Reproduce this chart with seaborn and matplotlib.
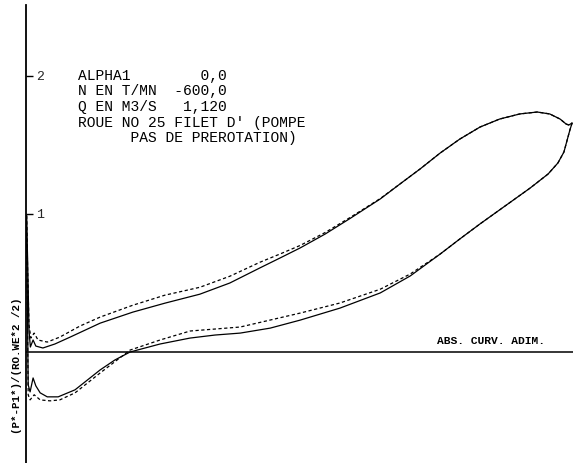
import matplotlib
matplotlib.use("Agg")
import matplotlib.pyplot as plt
import seaborn as sns
import pandas as pd

# Curvilinear abscissa (0 = leading edge, 1 = trailing edge) and pressure coefficient
upper_solid_x = [0.001, 0.003, 0.0055, 0.008, 0.013, 0.018, 0.031, 0.053, 0.081, 0.136,
                 0.196, 0.255, 0.319, 0.374, 0.429, 0.466, 0.503, 0.549, 0.594, 0.650,
                 0.686, 0.723, 0.760, 0.796, 0.833, 0.869, 0.906, 0.938, 0.961, 0.980,
                 0.991, 0.996, 1.002]
upper_solid_y = [0.989, 0.664, 0.159, 0.036, 0.087, 0.043, 0.029, 0.058, 0.108, 0.209,
                 0.289, 0.354, 0.419, 0.500, 0.609, 0.681, 0.754, 0.855, 0.966, 1.109,
                 1.217, 1.326, 1.442, 1.543, 1.630, 1.688, 1.725, 1.739, 1.725, 1.688,
                 1.652, 1.645, 1.659]

upper_dash_x = [0.001, 0.003, 0.0055, 0.009, 0.015, 0.022, 0.039, 0.062, 0.099, 0.136,
                0.196, 0.255, 0.319, 0.374, 0.429, 0.466, 0.503, 0.549, 0.594, 0.650,
                0.686, 0.723, 0.760, 0.796, 0.833, 0.869, 0.906, 0.938, 0.961, 0.980,
                0.991, 0.996, 1.002]
upper_dash_y = [0.989, 0.592, 0.195, 0.101, 0.137, 0.087, 0.072, 0.108, 0.188, 0.253,
                0.339, 0.412, 0.469, 0.549, 0.650, 0.710, 0.772, 0.866, 0.973, 1.112,
                1.217, 1.326, 1.442, 1.543, 1.630, 1.688, 1.725, 1.739, 1.725, 1.688,
                1.652, 1.645, 1.659]

lower_solid_x = [0.001, 0.004, 0.0075, 0.013, 0.018, 0.026, 0.039, 0.059, 0.090, 0.136,
                 0.163, 0.191, 0.246, 0.301, 0.347, 0.393, 0.448, 0.503, 0.576, 0.650,
                 0.705, 0.760, 0.796, 0.833, 0.879, 0.925, 0.958, 0.976, 0.987, 0.994,
                 0.998, 1.002]
lower_solid_y = [0.989, -0.238, -0.289, -0.188, -0.245, -0.296, -0.325, -0.325, -0.274, -0.130,
                 -0.058, 0.000, 0.058, 0.101, 0.123, 0.137, 0.173, 0.231, 0.318, 0.428,
                 0.551, 0.710, 0.819, 0.928, 1.058, 1.188, 1.290, 1.370, 1.449, 1.551,
                 1.609, 1.659]

lower_dash_x = [0.001, 0.004, 0.0075, 0.015, 0.026, 0.044, 0.062, 0.090, 0.136, 0.191,
                0.246, 0.301, 0.393, 0.503, 0.576, 0.650, 0.705, 0.760, 0.796, 0.833,
                0.879, 0.925, 0.958, 0.976, 0.987, 0.994, 0.998, 1.002]
lower_dash_y = [0.989, -0.310, -0.347, -0.310, -0.347, -0.354, -0.347, -0.296, -0.152, 0.014,
                0.087, 0.152, 0.181, 0.282, 0.355, 0.455, 0.565, 0.710, 0.819, 0.928,
                1.058, 1.188, 1.290, 1.370, 1.449, 1.551, 1.609, 1.659]

y_ticks = [1, 2]
info_lines = ["ALPHA1        0,0",
              "N EN T/MN  -600,0",
              "Q EN M3/S   1,120",
              "ROUE NO 25 FILET D' (POMPE",
              "      PAS DE PREROTATION)"]
x_title = "ABS. CURV. ADIM."
y_title = "(P*-P1*)/(RO.WE*2 /2)"

frames = []
for name, xs, ys in [("upper_solid", upper_solid_x, upper_solid_y),
                     ("upper_dash", upper_dash_x, upper_dash_y),
                     ("lower_solid", lower_solid_x, lower_solid_y),
                     ("lower_dash", lower_dash_x, lower_dash_y)]:
    frames.append(pd.DataFrame({"s": xs, "cp": ys, "curve": name}))
df = pd.concat(frames, ignore_index=True)

sns.set_theme(style="white")
plt.rcParams["font.family"] = ["DejaVu Sans"]

W, H = 573, 463
fig = plt.figure(figsize=(W / 100, H / 100), dpi=100)
x0 = 26.0
ax = fig.add_axes([x0 / W, 0, 1 - x0 / W, 1])

# pixel scale: y = 0 at row 352, 138 px per unit
y_bot = (352 - H) / 138.0
y_top = 352 / 138.0
ax.set_ylim(y_bot, y_top)
ax.set_xlim(0, (W - x0) / 545.0)

for name in ["upper_solid", "upper_dash", "lower_solid", "lower_dash"]:
    sub = df[df["curve"] == name]
    ls = "-" if name.endswith("solid") else (0, (2.6, 2.0))
    sns.lineplot(data=sub, x="s", y="cp", ax=ax, sort=False, estimator=None,
                 color="black", lw=0.9, linestyle=ls)

ax.axhline(0, color="black", lw=1.1)

for side in ["top", "right", "bottom"]:
    ax.spines[side].set_visible(False)
ax.spines["left"].set_color("black")
ax.spines["left"].set_linewidth(1.3)
ax.spines["left"].set_bounds(y_bot, (352 - 5) / 138.0)

ax.set_xticks([])
ax.set_yticks(y_ticks)
ax.set_yticklabels([str(t) for t in y_ticks])
ax.tick_params(axis="y", direction="in", length=5, width=1, color="black",
               pad=-13, labelsize=9.5, left=True)
for lbl in ax.get_yticklabels():
    lbl.set_family(["Liberation Mono", "DejaVu Sans Mono"])
ax.set_xlabel("")
ax.set_ylabel("")

def fy(py):
    return 1 - py / H

def fx(px):
    return px / W

mono = ["Liberation Mono", "DejaVu Sans Mono"]
line_rows = [76, 91.5, 107, 122.5, 138]
for txt, py in zip(info_lines, line_rows):
    fig.text(fx(78), fy(py), txt, ha="left", va="center", fontsize=10.5,
             family=mono, color="black")

fig.text(fx(437), fy(341), x_title, ha="left", va="center", fontsize=8.1,
         family=mono, fontweight="bold", color="black")
fig.text(fx(17), fy(366), y_title, ha="center", va="center", rotation=90,
         fontsize=7.8, family=mono, fontweight="bold", color="black")

fig.savefig("out.png", dpi=100)
